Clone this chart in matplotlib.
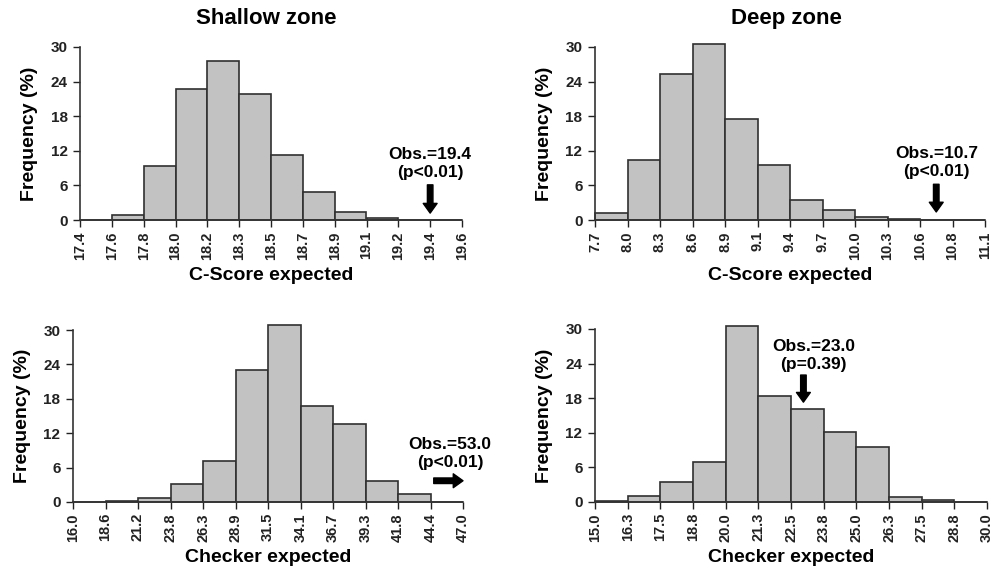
import matplotlib
matplotlib.use("Agg")
import matplotlib.pyplot as plt

plt.rcParams["font.family"] = ["Liberation Sans", "DejaVu Sans"]
plt.rcParams["font.weight"] = "bold"

# bin edges (tick labels) and frequencies (%) per panel
shallow_cscore_edges = ["17.4", "17.6", "17.8", "18.0", "18.2", "18.3", "18.5",
                        "18.7", "18.9", "19.1", "19.2", "19.4", "19.6"]
shallow_cscore_freq = [0, 0.95, 9.35, 22.8, 27.6, 21.9, 11.25, 4.85, 1.45, 0.35, 0, 0]

deep_cscore_edges = ["7.7", "8.0", "8.3", "8.6", "8.9", "9.1", "9.4",
                     "9.7", "10.0", "10.3", "10.6", "10.8", "11.1"]
deep_cscore_freq = [1.15, 10.4, 25.3, 30.5, 17.6, 9.5, 3.5, 1.7, 0.6, 0.25, 0, 0]

shallow_checker_edges = ["16.0", "18.6", "21.2", "23.8", "26.3", "28.9", "31.5",
                         "34.1", "36.7", "39.3", "41.8", "44.4", "47.0"]
shallow_checker_freq = [0, 0.2, 0.65, 3.2, 7.1, 23.0, 30.9, 16.7, 13.6, 3.7, 1.4, 0]

deep_checker_edges = ["15.0", "16.3", "17.5", "18.8", "20.0", "21.3", "22.5",
                      "23.8", "25.0", "26.3", "27.5", "28.8", "30.0"]
deep_checker_freq = [0.25, 1.0, 3.4, 7.0, 30.5, 18.4, 16.1, 12.1, 9.6, 0.9, 0.4, 0]

y_ticks = [0, 6, 12, 18, 24, 30]


def draw_hist(ax, edges, freq, xlabel):
    ax.bar(range(len(freq)), freq, width=1, align="edge", color="#c2c2c2",
           edgecolor="#303030", linewidth=1.2, clip_on=False, zorder=2)
    ax.set_xlim(0, len(edges) - 1)
    ax.set_ylim(0, 30)
    ax.set_xticks(range(len(edges)))
    ax.set_xticklabels(edges, rotation=90, fontsize=10.5, fontweight="bold")
    ax.set_yticks(y_ticks)
    ax.set_yticklabels([str(t) for t in y_ticks], fontsize=11, fontweight="bold")
    ax.tick_params(direction="out", length=5, width=1, colors="#222222", pad=3)
    ax.tick_params(axis="y", pad=4)
    for side in ("top", "right"):
        ax.spines[side].set_visible(False)
    for side in ("left", "bottom"):
        ax.spines[side].set_color("#333333")
        ax.spines[side].set_linewidth(1.2)
    ax.set_xlabel(xlabel, fontsize=14, fontweight="bold", labelpad=5)
    ax.set_ylabel("Frequency (%)", fontsize=14, fontweight="bold", labelpad=9)


def obs_arrow(ax, tail, tip, text, text_xy):
    ax.annotate("", xy=tip, xytext=tail,
                arrowprops=dict(facecolor="black", edgecolor="black", width=4,
                                headwidth=10, headlength=7, shrink=0))
    ax.text(text_xy[0], text_xy[1], text, ha="center", va="bottom",
            fontsize=12.5, fontweight="bold", linespacing=1.2)


fig = plt.figure(figsize=(10, 5.73), dpi=100)
ax1 = fig.add_axes([0.080, 0.616, 0.382, 0.302])
ax2 = fig.add_axes([0.595, 0.616, 0.390, 0.302])
ax3 = fig.add_axes([0.073, 0.124, 0.390, 0.300])
ax4 = fig.add_axes([0.595, 0.124, 0.392, 0.302])

draw_hist(ax1, shallow_cscore_edges, shallow_cscore_freq, "C-Score expected")
draw_hist(ax2, deep_cscore_edges, deep_cscore_freq, "C-Score expected")
draw_hist(ax3, shallow_checker_edges, shallow_checker_freq, "Checker expected")
draw_hist(ax4, deep_checker_edges, deep_checker_freq, "Checker expected")

obs_arrow(ax1, (11, 6.1), (11, 1.2), "Obs.=19.4\n(p<0.01)", (11, 7.0))
obs_arrow(ax2, (10.5, 6.2), (10.5, 1.4), "Obs.=10.7\n(p<0.01)", (10.5, 7.2))
obs_arrow(ax3, (11.1, 3.7), (12.0, 3.7), "Obs.=53.0\n(p<0.01)", (11.6, 5.6))
obs_arrow(ax4, (6.38, 22.0), (6.38, 17.3), "Obs.=23.0\n(p=0.39)", (6.7, 22.6))

fig.text(0.266, 0.968, "Shallow zone", ha="center", va="center",
         fontsize=16, fontweight="bold")
fig.text(0.786, 0.968, "Deep zone", ha="center", va="center",
         fontsize=16, fontweight="bold")

fig.savefig("out.png", dpi=100)
plt.close(fig)
